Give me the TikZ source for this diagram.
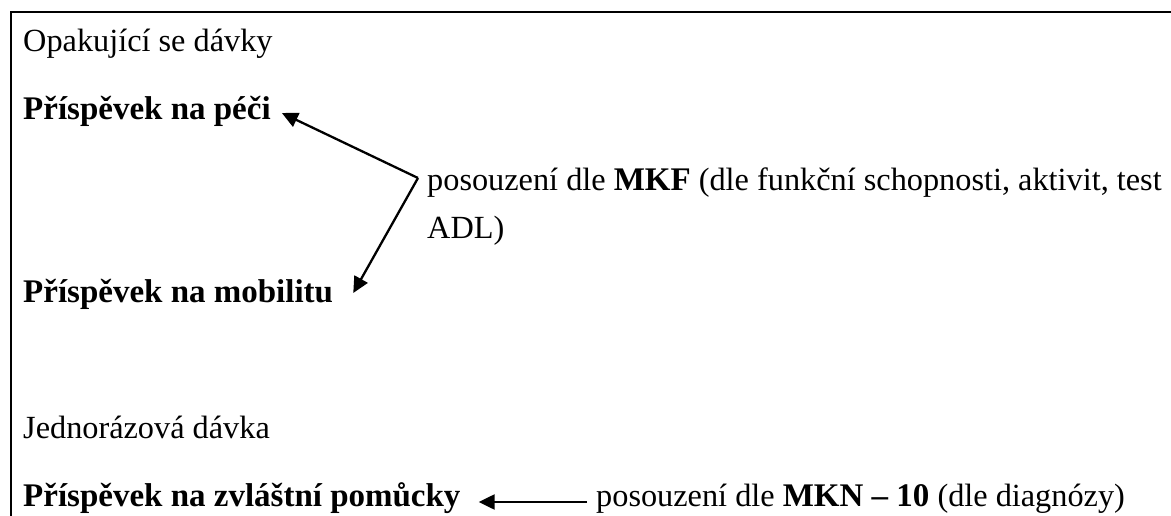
\documentclass[tikz,border=0pt]{standalone}
\usepackage{fontspec}
\setmainfont{Liberation Serif}
\usetikzlibrary{arrows.meta}
\newcommand{\bd}[1]{{\fontsize{33}{40}\selectfont\bfseries #1}}

\begin{document}
\begin{tikzpicture}[x=1pt, y=-1pt,
    lbl/.style={anchor=base west, inner sep=0pt, font=\fontsize{32.3}{40}\selectfont},
    arr/.style={line width=2.3pt, -{Triangle[length=16pt, width=15pt]}}]
    \useasboundingbox (0,0) rectangle (1171,516);
    \clip (0,0) rectangle (1171,516);
    \draw[line width=2pt] (11,12) rectangle (1200,560);

    % opakujici se davky
    \node[lbl] (opak) at (23,52) {Opakující se dávky};
    \node[lbl] (pece) at (23,120) {\bd{Příspěvek na péči}};
    \node[lbl] (mob) at (23,302) {\bd{Příspěvek na mobilitu}};
    \node[lbl] (mkf) at (427,191) {posouzení dle \bd{MKF} (dle funkční schopnosti, aktivit, test};
    \node[lbl] (adl) at (427,238) {ADL)};
    \coordinate (split) at (418,178);
    \draw[arr] (split) -- ([xshift=11pt, yshift=7pt]pece.base east);
    \draw[arr] (split) -- ([xshift=20pt, yshift=9pt]mob.base east);

    % jednorazova davka
    \node[lbl] (jedn) at (23,438) {Jednorázová dávka};
    \node[lbl] (pom) at (23,506) {\bd{Příspěvek na zvláštní pomůcky}};
    \node[lbl] (mkn) at (596,506) {posouzení dle \bd{MKN – 10} (dle diagnózy)};
    \draw[arr] ([xshift=-9pt, yshift=4pt]mkn.base west) -- ([xshift=18pt, yshift=4pt]pom.base east);
\end{tikzpicture}
\end{document}
